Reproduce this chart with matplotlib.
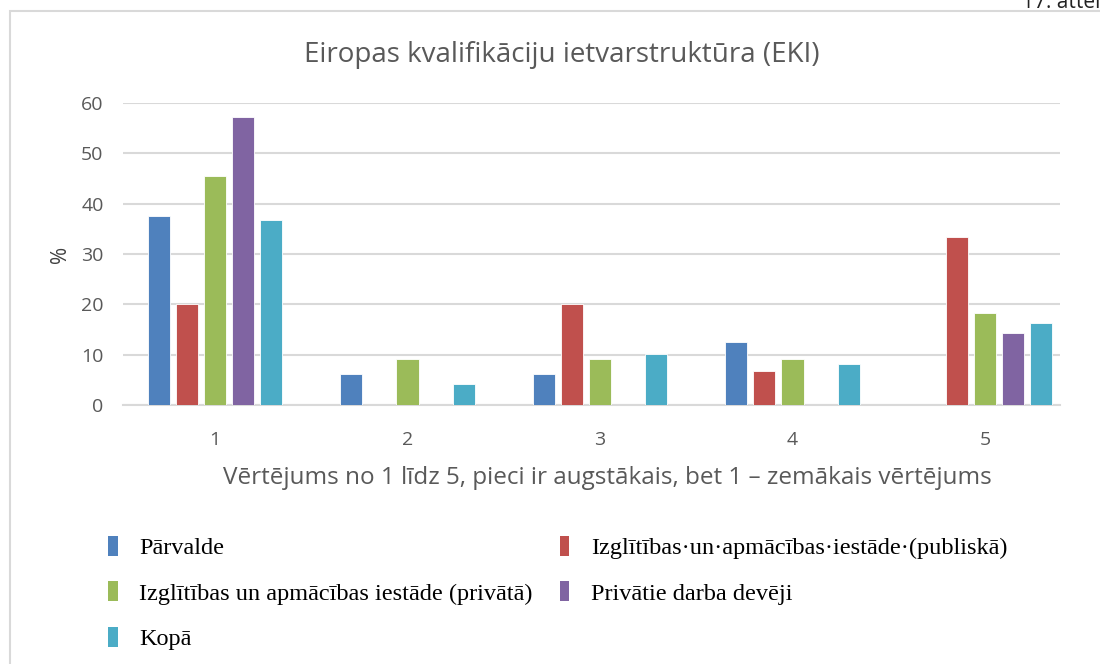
import matplotlib.pyplot as plt
import numpy as np
from matplotlib.patches import Patch, Rectangle

# data
groups = ['1', '2', '3', '4', '5']
series = ['Pārvalde',
          'Izglītības·un·apmācības·iestāde·(publiskā)',
          'Izglītības un apmācības iestāde (privātā)',
          'Privātie darba devēji',
          'Kopā']
parvalde = [37.5, 6.25, 6.25, 12.5, 0]
publiska = [20.0, 0, 20.0, 6.67, 33.33]
privata = [45.45, 9.09, 9.09, 9.09, 18.18]
darba_deveji = [57.14, 0, 0, 0, 14.29]
kopa = [36.73, 4.08, 10.2, 8.16, 16.33]
colors = ['#4f81bd', '#c0504d', '#9bbb59', '#8064a2', '#4bacc6']

values = [parvalde, publiska, privata, darba_deveji, kopa]

plt.rcParams['font.family'] = ['Open Sans', 'DejaVu Sans']
fig = plt.figure(figsize=(11, 6.64), dpi=100)

# outer frame like the document's chart border
fig.patches.append(Rectangle((10/1100, -0.01), 1.1, 1 - 11/664 + 0.01,
                             transform=fig.transFigure, fill=False,
                             edgecolor='#d9d9d9', linewidth=1.5))
fig.text(1022/1100, 1 + 8/664, '17. attēls', fontsize=15, color='#222222',
         ha='left', va='top')

ax = fig.add_axes([123/1100, 1 - 405/664, (1060-123)/1100, (405-103)/664])
x = np.arange(1, 6)
w = 0.115
step = 0.146
for i, (vals, name) in enumerate(zip(values, series)):
    ax.bar(x + (i - 2) * step, vals, width=w, color=colors[i], label=name,
           edgecolor='white', linewidth=0.6, zorder=3)

ax.set_xlim(0.522, 5.39)
ax.set_ylim(0, 60)
ax.set_yticks(range(0, 61, 10))
ax.set_xticks(x)
ax.set_xticklabels(groups)
ax.grid(axis='y', color='#d9d9d9', linewidth=1.5, zorder=0)
for s in ['top', 'right', 'left']:
    ax.spines[s].set_visible(False)
ax.spines['bottom'].set_color('#d9d9d9')
ax.spines['bottom'].set_linewidth(1.5)
ax.tick_params(length=0, labelsize=14, colors='#595959')
ax.tick_params(axis='y', pad=14)
ax.tick_params(axis='x', pad=19)
ax.set_ylabel('%', fontsize=15, color='#404040', labelpad=7)
ax.set_xlabel('Vērtējums no 1 līdz 5, pieci ir augstākais, bet 1 – zemākais vērtējums',
              fontsize=17.5, color='#595959', labelpad=12, x=(607-123)/937)
fig.text(562/1100, 1 - 55/664, 'Eiropas kvalifikāciju ietvarstruktūra (EKI)',
         fontsize=20, color='#595959', ha='center', va='center')

# legend, row-major order via column-major reordering
order = [0, 2, 4, 1, 3]
handles = [Patch(facecolor=colors[i], label=series[i]) for i in order]
fig.legend(handles=handles, ncol=2, loc='upper left',
           bbox_to_anchor=(86/1100, 1 - 514/664), frameon=False,
           prop={'family': 'Liberation Serif', 'size': 17.5},
           handlelength=0.4, handleheight=0.9, handletextpad=0.9,
           columnspacing=1.1, labelspacing=0.9)

fig.savefig('out.png', dpi=100)
